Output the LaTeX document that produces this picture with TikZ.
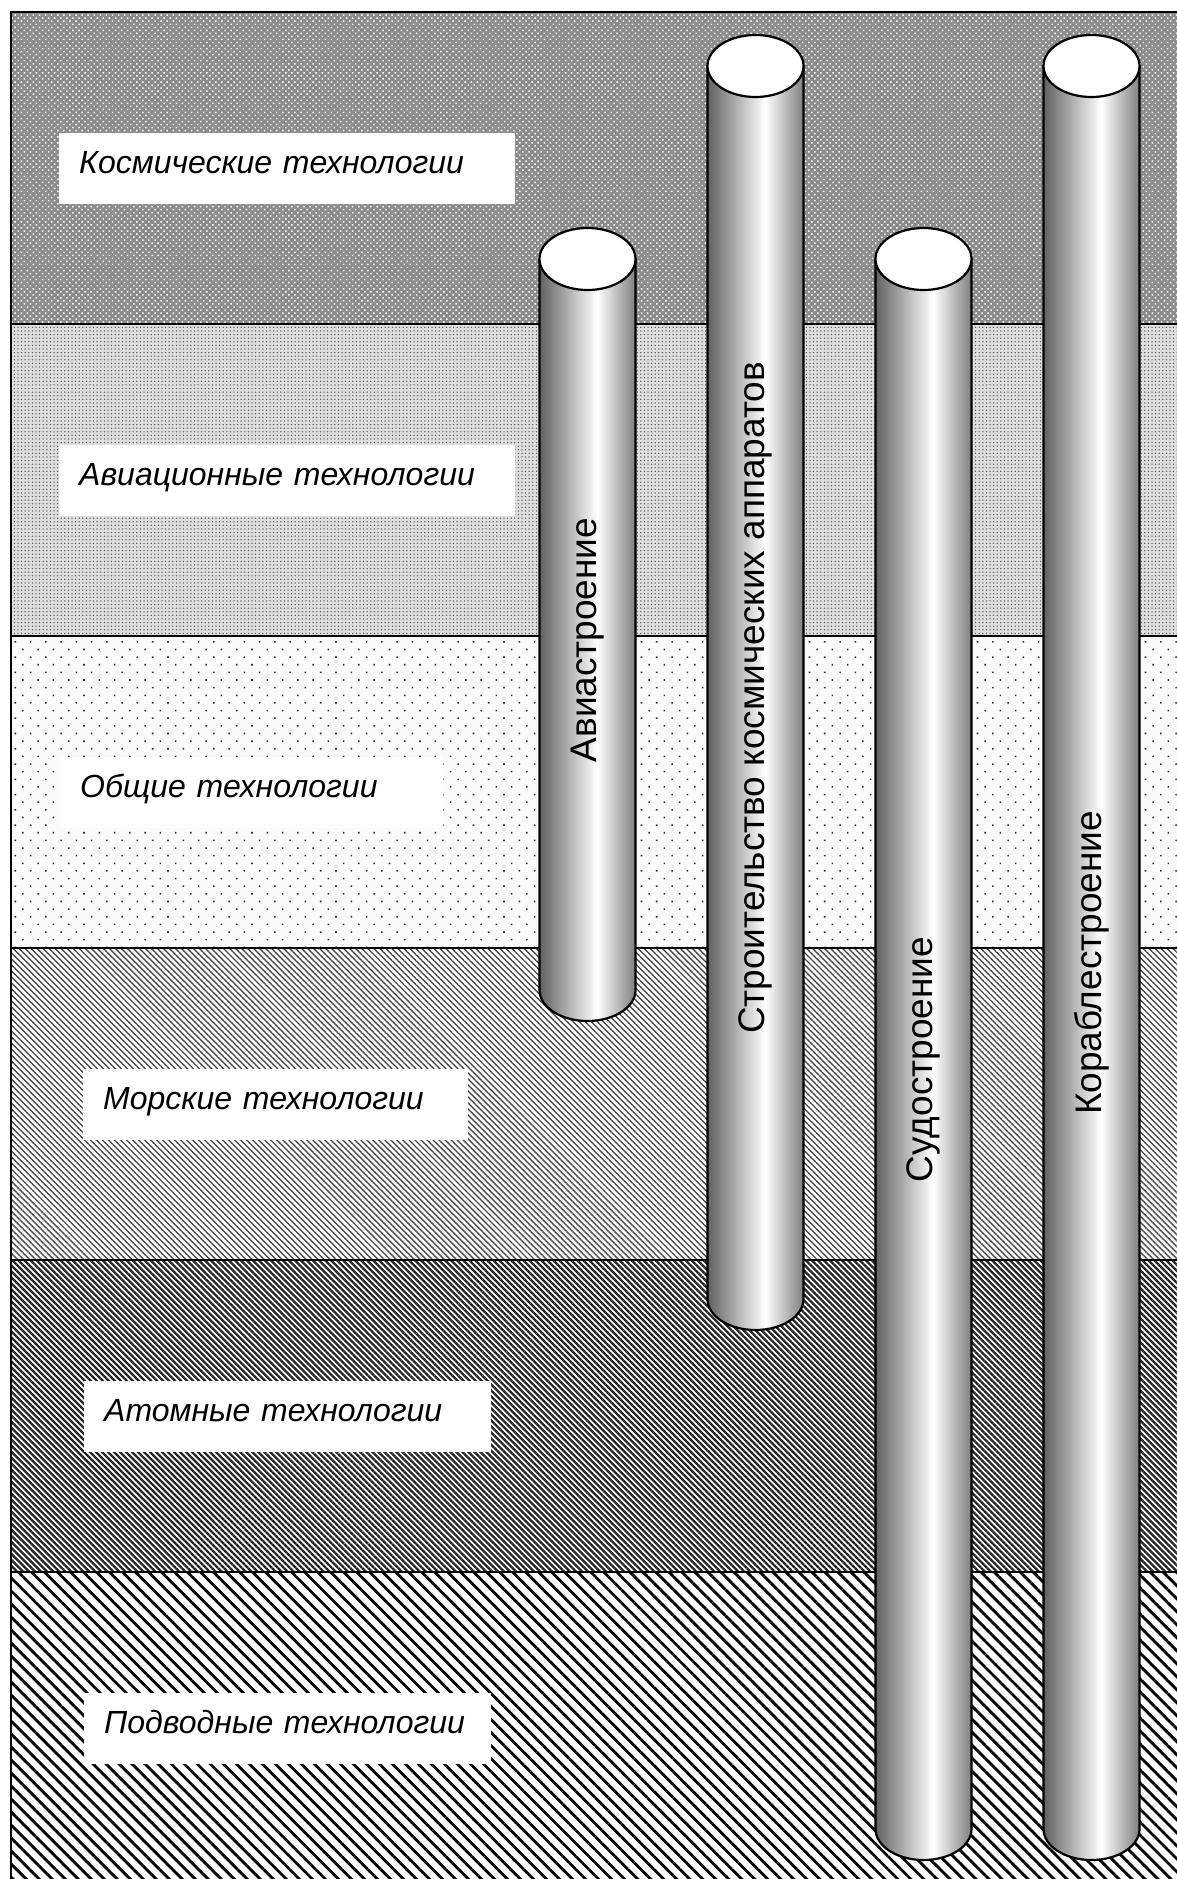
\documentclass[tikz,border=0pt]{standalone}
\usepackage{fontspec}
\setmainfont{Liberation Sans}
\usetikzlibrary{patterns.meta}
\pgfdeclarehorizontalshading{cylshade}{100bp}{color(0bp)=(black!62); color(25bp)=(black!62); color(55bp)=(white); color(75bp)=(black!50); color(100bp)=(black!50)}
\tikzset{
  lbl/.style={fill=white, inner xsep=20pt, inner ysep=0pt, minimum height=71pt, text height=25pt, text depth=16pt, anchor=west, align=left, font=\fontsize{32}{38}\selectfont\itshape},
  cyltext/.style={rotate=90, font=\fontsize{37}{44}\selectfont, inner sep=0pt},
  edge/.style={line width=2pt, draw=black},
  cylline/.style={line width=2.2pt, draw=black}
}
\newcommand\mycyl[5]{%
  \shadedraw[shading=cylshade, cylline] (#2-48,-#3) -- (#2-48,-#4) arc[start angle=180, end angle=360, x radius=48, y radius=31] -- (#2+48,-#3) -- cycle;
  \draw[cylline, fill=white] (#2,-#3) ellipse[x radius=48, y radius=31];
  \node[cyltext] (#1) at (#2,{-(#3+31+#4)/2}) {#5};
}
\begin{document}
\begin{tikzpicture}[x=1pt,y=1pt]
\useasboundingbox (0,0) rectangle (1177,-1879);
\clip (0,0) rectangle (1177,-1879);
% band 1
\fill[black!45] (11,-12) rectangle (1190,-324);
\fill[pattern={Dots[distance=4.3pt,radius=1.05pt,angle=45]}, pattern color=white] (11,-12) rectangle (1190,-324);
% band 2
\fill[black!13] (11,-324) rectangle (1190,-636);
\fill[pattern={Dots[distance=3.6pt,radius=0.75pt]}, pattern color=black!65] (11,-324) rectangle (1190,-636);
% band 3
\fill[black!2] (11,-636) rectangle (1190,-948);
\fill[pattern={Dots[distance=10.8pt,radius=1.1pt,angle=45]}, pattern color=black!80] (11,-636) rectangle (1190,-948);
% band 4
\fill[white] (11,-948) rectangle (1190,-1260);
\fill[pattern={Lines[angle=-45,distance=4.25pt,line width=1.4pt]}, pattern color=black!70] (11,-948) rectangle (1190,-1260);
% band 5
\fill[white] (11,-1260) rectangle (1190,-1572);
\fill[pattern={Lines[angle=-45,distance=4.25pt,line width=2.3pt]}, pattern color=black!85] (11,-1260) rectangle (1190,-1572);
% band 6
\fill[white] (11,-1572) rectangle (1190,-1890);
\fill[pattern={Lines[angle=-45,distance=9.2pt,line width=2.8pt]}, pattern color=black] (11,-1572) rectangle (1190,-1890);
% frame and boundaries
\draw[edge] (11,-1890) -- (11,-12) -- (1190,-12);
\foreach \yy in {324,636,948,1260,1572} \draw[edge] (11,-\yy) -- (1190,-\yy);
% labels
\node[lbl, text width=416pt] (l1) at (59,-168.5) {Космические технологии};
\node[lbl, text width=416pt] (l2) at (59,-480.5) {Авиационные технологии};
\node[lbl, text width=343pt] (l3) at (60,-792.5) {Общие технологии};
\node[lbl, text width=345pt] (l4) at (83,-1104.5) {Морские технологии};
\node[lbl, text width=367pt] (l5) at (84,-1416.5) {Атомные технологии};
\node[lbl, text width=367pt] (l6) at (84,-1728.5) {Подводные технологии};
% cylinders
\mycyl{c1}{587.5}{259}{990}{Авиастроение}
\mycyl{c2}{755.5}{66}{1299}{Строительство космических аппаратов}
\mycyl{c3}{923.5}{259}{1829}{Судостроение}
\mycyl{c4}{1091.5}{66}{1829}{Кораблестроение}
\end{tikzpicture}
\end{document}
